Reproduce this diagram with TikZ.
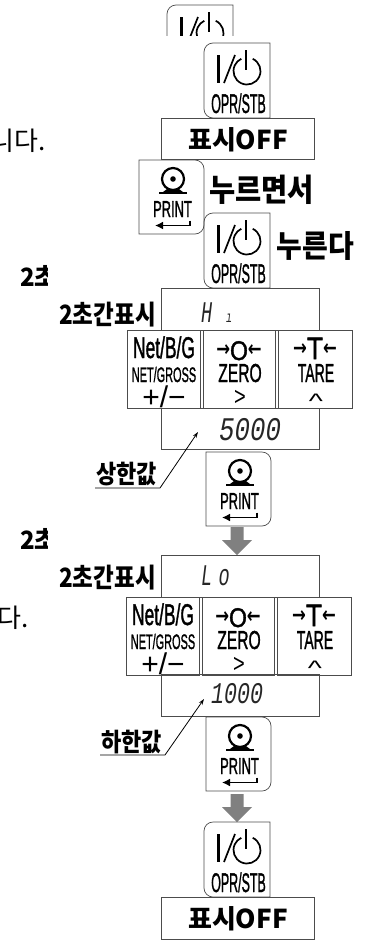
\documentclass[tikz,border=0pt]{standalone}
\usepackage{graphicx}
\usepackage{fontspec}
\setmainfont{Liberation Sans}[FakeBold=1.6]
\newfontfamily\plainf{Liberation Sans}
\newfontfamily\krf{Noto Sans CJK KR}
\newfontfamily\arf{DejaVu Sans}
\newfontfamily\segf{Liberation Mono}
\newcommand{\cn}[3]{\scalebox{#2}[1]{\fontsize{#1}{#1}\selectfont #3}}
\newcommand{\pl}[4]{\scalebox{#2}[#3]{\plainf\fontsize{#1}{#1}\selectfont #4}}
\newcommand{\kb}[2]{{\krf\bfseries\fontsize{#1}{#1}\selectfont #2}}
\newcommand{\kt}[3]{\scalebox{1}[#2]{\krf\bfseries\fontsize{#1}{#1}\selectfont #3}}
\newcommand{\seg}[3]{\scalebox{#2}[1]{\fontsize{#1}{#1}\selectfont\segf\itshape #3}}
\newcommand{\arw}[2]{{\raisebox{#2}{\scalebox{.75}[1]{\arf\bfseries\fontsize{22}{22}\selectfont #1}}}}
\usetikzlibrary{arrows.meta}
\colorlet{edge}{black!70}
\tikzset{
  keyline/.style={draw=edge,line width=0.7pt},
  lab/.style={inner sep=0pt,anchor=base,text=black},
  seglab/.style={inner sep=0pt,anchor=base west,text=black!85},
  lead/.style={draw=black,line width=0.8pt},
  bigarrow/.style={fill=black!50,draw=none},
}
\newcommand{\OprKey}[3]{%
 \begin{scope}[shift={(#2,#3)}]
  \draw[keyline] (66,75) -- (66,0) [rounded corners=9pt] -- (0,0) -- (0,75) [sharp corners] -- (66,75);
  \draw[line width=2.2pt,black] (14.5,12) -- (14.5,40);
  \draw[line width=1.7pt,black] (20,40) -- (31,12);
  \draw[line width=1.7pt,black] (48.7,15.8) arc[start angle=-65,end angle=245,radius=13.5];
  \draw[line width=1.9pt,black] (42,7) -- (42,27);
  \node[lab] (#1t) at (34.5,70) {\cn{27}{.46}{OPR/STB}};
 \end{scope}}
\newcommand{\PrintKey}[3]{%
 \begin{scope}[shift={(#2,#3)}]
  \draw[keyline] (0,0) [rounded corners=9pt] -- (65,0) -- (65,74) [sharp corners] -- (0,74) -- cycle;
  \draw[line width=2.2pt,black] (34,19) circle[radius=11];
  \fill[black] (34,19) circle[radius=2.8];
  \fill[black] (28,29) -- (40,29) -- (44,32) -- (24,32) -- cycle;
  \draw[line width=2.4pt,black] (20,33) -- (48,33);
  \node[lab] (#1t) at (33.5,57) {\cn{23}{.56}{PRINT}};
  \draw[line width=1.7pt,black,-{Latex[length=8pt,width=8pt]}] (51,60.5) -- (51,65.5) -- (16,65.5);
 \end{scope}}
\newcommand{\KeyRow}[3]{%
 \begin{scope}[shift={(#2,#3)}]
  \draw[keyline] (0,0) rectangle (73.5,78);
  \draw[keyline] (76,0) rectangle (148,78);
  \draw[keyline] (151,0) rectangle (225,78);
  \node[lab] (#1a) at (37,28) {\cn{30}{.58}{Net/B/G}};
  \node[lab] (#1b) at (37,52) {\cn{21}{.52}{NET/GROSS}};
  \node[lab] (#1c) at (37,77) {\pl{30}{1}{1}{+/−}};
  \node[lab] (#1d) at (112,30) {\arw{→}{4pt}\cn{27}{.85}{O}\arw{←}{4pt}};
  \node[lab] (#1e) at (113,52) {\cn{26}{.6}{ZERO}};
  \node[lab] (#1f) at (113,75.5) {\pl{26}{.77}{1}{>}};
  \node[lab] (#1g) at (188,29) {\arw{→}{3.5pt}\cn{31}{.85}{T}\arw{←}{3.5pt}};
  \node[lab] (#1h) at (189,52) {\cn{26}{.54}{TARE}};
  \node[lab] (#1i) at (189,78) {\pl{30}{1}{.7}{\^{}}};
 \end{scope}}
\newcommand{\BigArrow}[2]{%
 \fill[bigarrow] (#1-6.5,#2) -- (#1+6.5,#2) -- (#1+6.5,#2+13) -- (#1+15,#2+13) -- (#1,#2+28) -- (#1-15,#2+13) -- (#1-6.5,#2+13) -- cycle;}
\begin{document}
\begin{tikzpicture}[x=1pt,y=-1pt]
\useasboundingbox (0,0) rectangle (366,940);
\begin{scope}
 \clip (160,0) rectangle (240,35);
 \OprKey{k0}{167}{5}
\end{scope}
\OprKey{k1}{204}{43}
\draw[keyline] (161.5,118) rectangle (314,159);
\node[lab] (off1) at (238,149) {\kb{26}{표시OFF}};
\PrintKey{p1}{139}{160}
\node[lab] (t1) at (261.5,201) {\kt{28.5}{1.1}{누르면서}};
\OprKey{k2}{204}{213}
\node[lab] (t2) at (315.5,257) {\kt{28}{1.1}{누른다}};
\begin{scope}
 \clip (0,0) rectangle (47,940);
 \node[lab,anchor=base west] (n1) at (20,286) {\kt{24}{1.05}{2초}};
 \node[lab,anchor=base west] (n2) at (20,549) {\kt{24}{1.05}{2초}};
\end{scope}
\begin{scope}
 \clip (0,0) rectangle (366,940);
 \node[lab,anchor=base east] (d1) at (46,150) {{\krf\fontsize{26}{26}\selectfont 니다.}};
 \node[lab,anchor=base east] (d2) at (29,627) {{\krf\fontsize{26}{26}\selectfont 다.}};
\end{scope}
\node[lab] (s1) at (107.5,324) {\kt{22.5}{1.18}{2초간표시}};
\draw[keyline] (161.5,288) rectangle (319,330);
\node[seglab] (hi) at (201,322) {\seg{30}{.62}{H\hspace{22pt}{\segf\fontsize{16}{16}\selectfont\itshape ı}}};
\KeyRow{r1}{127}{330}
\draw[keyline] (161.5,408) rectangle (319,449);
\node[seglab] (v1) at (219,440) {\seg{33}{.78}{5000}};
\node[lab] (u1) at (126.5,483) {\kt{22}{1.15}{상한값}};
\coordinate (u1a) at (95,488);
\coordinate (u1b) at (160,488);
\coordinate (u1c) at (198,432);
\draw[lead,-{Stealth[length=6pt,width=4pt]}] (u1a) -- (u1b) -- (u1c);
\PrintKey{p2}{206}{452}
\BigArrow{237}{527}
\node[lab] (s2) at (107.5,587) {\kt{22.5}{1.18}{2초간표시}};
\draw[keyline] (161.5,555) rectangle (319,597);
\node[seglab] (lo) at (201,585) {\seg{30}{.62}{L\hspace{10pt}o}};
\KeyRow{r2}{126}{597}
\draw[keyline] (161.5,674) rectangle (319,716);
\node[seglab] (v2) at (211,703) {\seg{30}{.72}{1000}};
\node[lab] (u2) at (131.5,751) {\kt{22}{1.15}{하한값}};
\coordinate (u2a) at (100,755);
\coordinate (u2b) at (165,755);
\coordinate (u2c) at (204,699);
\draw[lead,-{Stealth[length=6pt,width=4pt]}] (u2a) -- (u2b) -- (u2c);
\PrintKey{p3}{206}{717}
\BigArrow{237}{794}
\OprKey{k3}{204}{822}
\draw[keyline] (161.5,897) rectangle (314,939);
\node[lab] (off2) at (238,928) {\kb{26}{표시OFF}};
\end{tikzpicture}
\end{document}
